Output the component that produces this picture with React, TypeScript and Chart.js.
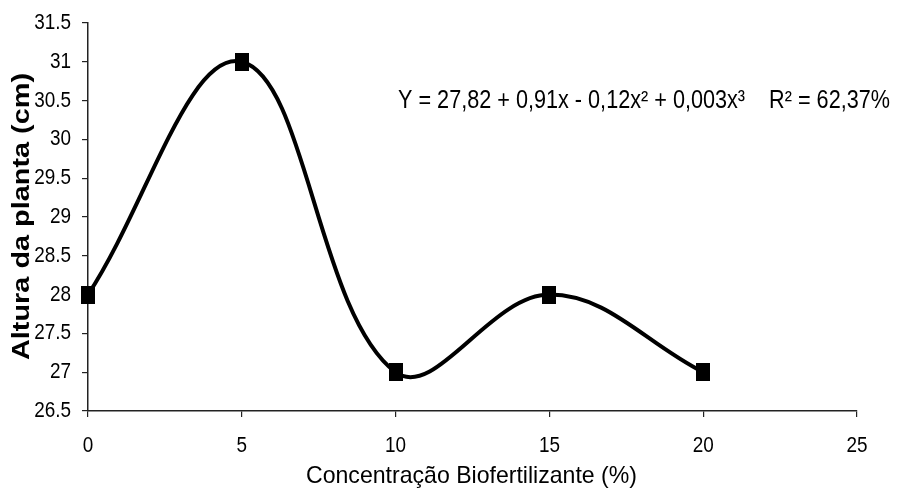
import React, { useEffect, useRef } from "react";
import { Chart, registerables } from "chart.js";

Chart.register(...registerables);

const concentrations = [0, 5, 10, 15, 20];
const plantHeights = [28, 31, 27, 28, 27];
const xTitle = "Concentração Biofertilizante (%)";
const yTitle = "Altura da planta (cm)";
const equationText = "Y = 27,82 + 0,91x - 0,12x² + 0,003x³    R² = 62,37%";

const SANS = "'Liberation Sans', Arial, sans-serif";

function drawStretched(
  ctx: CanvasRenderingContext2D,
  text: string,
  x: number,
  y: number,
  font: string,
  align: CanvasTextAlign,
  baseline: CanvasTextBaseline,
  sx: number,
  rotate = 0
) {
  ctx.save();
  ctx.translate(x, y);
  if (rotate) ctx.rotate(rotate);
  ctx.scale(sx, 1);
  ctx.font = font;
  ctx.textAlign = align;
  ctx.textBaseline = baseline;
  ctx.fillStyle = "#000";
  ctx.fillText(text, 0, 0);
  ctx.restore();
}

function fitScale(ctx: CanvasRenderingContext2D, text: string, font: string, target: number) {
  ctx.save();
  ctx.font = font;
  const w = ctx.measureText(text).width;
  ctx.restore();
  return w > 0 ? target / w : 1;
}

export default function App() {
  const ref = useRef<HTMLCanvasElement | null>(null);

  useEffect(() => {
    if (!ref.current) return;

    const marker = document.createElement("canvas");
    marker.width = 14;
    marker.height = 18;
    const mctx = marker.getContext("2d")!;
    mctx.fillStyle = "#000";
    mctx.fillRect(0, 0, 14, 18);

    const textPlugin = {
      id: "stretchedText",
      afterDraw(chart: any) {
        const ctx: CanvasRenderingContext2D = chart.ctx;
        const xs = chart.scales.x;
        const ys = chart.scales.y;
        const tickFont = `22px ${SANS}`;
        ys.ticks.forEach((t: any) => {
          const py = ys.getPixelForValue(t.value);
          drawStretched(ctx, String(t.value), 71, py, tickFont, "right", "middle", 0.86);
        });
        xs.ticks.forEach((t: any) => {
          const px = xs.getPixelForValue(t.value);
          drawStretched(ctx, String(t.value), px, 446, tickFont, "center", "middle", 0.86);
        });
        const xFont = `24px ${SANS}`;
        const xsx = fitScale(ctx, xTitle, xFont, 331);
        drawStretched(ctx, xTitle, 306, 483, xFont, "left", "alphabetic", xsx);
        const yFont = `bold 23px ${SANS}`;
        const ysx = fitScale(ctx, yTitle, yFont, 287);
        drawStretched(ctx, yTitle, 29, 216.5, yFont, "center", "alphabetic", ysx, -Math.PI / 2);
        const eFont = `26px ${SANS}`;
        const esx = fitScale(ctx, equationText, eFont, 492);
        drawStretched(ctx, equationText, 398, 108, eFont, "left", "alphabetic", esx);
      },
    };

    const chart = new Chart(ref.current, {
      type: "line",
      data: {
        datasets: [
          {
            data: concentrations.map((x, i) => ({ x, y: plantHeights[i] })),
            borderColor: "#000",
            backgroundColor: "#000",
            borderWidth: 4,
            tension: 0.38,
            pointStyle: marker,
            pointRadius: 9,
            clip: false as any,
          },
        ],
      },
      options: {
        animation: false,
        responsive: true,
        maintainAspectRatio: false,
        layout: { padding: { top: 23, right: 41, bottom: 0, left: 0 } },
        plugins: { legend: { display: false }, tooltip: { enabled: false } },
        scales: {
          x: {
            type: "linear",
            min: 0,
            max: 25,
            ticks: { stepSize: 5, color: "rgba(0,0,0,0)", font: { size: 12 } },
            grid: { drawOnChartArea: false, drawTicks: true, tickLength: 6, color: "#222", lineWidth: 1.2 },
            border: { display: true, color: "#222", width: 1.5 },
            title: { display: false },
            afterFit(scale: any) { scale.height = 87; },
          },
          y: {
            min: 26.5,
            max: 31.5,
            ticks: { stepSize: 0.5, color: "rgba(0,0,0,0)", font: { size: 12 } },
            grid: { drawOnChartArea: false, drawTicks: true, tickLength: 6, color: "#222", lineWidth: 1.2 },
            border: { display: true, color: "#222", width: 1.5 },
            title: { display: false },
            afterFit(scale: any) { scale.width = 88; },
          },
        },
      },
      plugins: [textPlugin],
    } as any);
    return () => chart.destroy();
  }, []);

  return (
    <div style={{ position: "absolute", left: 0, top: 0, width: 898, height: 498, background: "#fff" }}>
      <canvas ref={ref} />
    </div>
  );
}
